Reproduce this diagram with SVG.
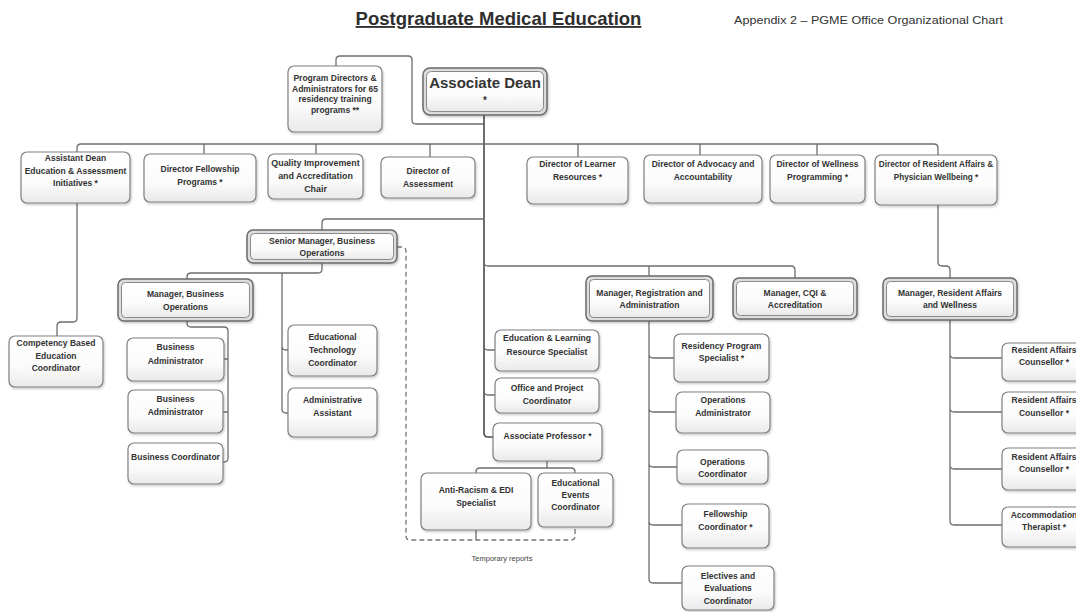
<svg xmlns="http://www.w3.org/2000/svg" width="1076" height="612" viewBox="0 0 1076 612">
<defs>
<linearGradient id="g" x1="0" y1="0" x2="0" y2="1"><stop offset="0" stop-color="#ffffff"/><stop offset="0.6" stop-color="#fbfbfb"/><stop offset="1" stop-color="#e9e9e9"/></linearGradient>
<filter id="sh" x="-10%" y="-10%" width="130%" height="140%"><feDropShadow dx="1" dy="1.5" stdDeviation="1" flood-color="#000" flood-opacity="0.22"/></filter>
</defs>
<style>
.b{fill:url(#g);stroke:#808080;stroke-width:1.2;filter:url(#sh)}
.o{fill:#dcdcdc;stroke:#6a6a6a;stroke-width:1.5;filter:url(#sh)}
.i{fill:url(#g);stroke:#8a8a8a;stroke-width:1}
.t{font-family:"Liberation Sans",Arial,sans-serif;font-weight:bold;font-size:8.5px;fill:#333;text-anchor:middle}
.c{fill:none;stroke:#6e6e6e;stroke-width:1.3}
.m{fill:none;stroke:#4a4a4a;stroke-width:1.6}
.d{fill:none;stroke:#777;stroke-width:1.3;stroke-dasharray:5,3}
</style>
<rect width="1076" height="612" fill="#ffffff"/>
<text x="498.5" y="25" font-family="'Liberation Sans',Arial,sans-serif" font-weight="bold" font-size="18.5" fill="#2e2e2e" text-anchor="middle" text-decoration="underline">Postgraduate Medical Education</text>
<text x="868.5" y="23.5" font-family="'Liberation Sans',Arial,sans-serif" font-size="11" fill="#333" text-anchor="middle" textLength="269" lengthAdjust="spacingAndGlyphs">Appendix 2 – PGME Office Organizational Chart</text>

<g id="connectors">
<path class="c" d="M336,66 V60 Q336,56 340,56 H408 Q412,56 412,60 V120 Q412,124 416,124 H484"/>
<path class="m" d="M484,115 V433 Q484,437 488,437 H493"/>
<path class="c" d="M77,152 V148 Q77,144 81,144 H934 Q938,144 938,148 V155"/>
<path class="c" d="M204,144 V154 M316,144 V154 M430,144 V157 M578,144 V157 M700,144 V155 M817,144 V155"/>
<path class="c" d="M77,203 V318 Q77,322 73,322 H61 Q57,322 57,326 V336"/>
<path class="c" d="M322,230 V223 Q322,219 326,219 H484"/>
<path class="c" d="M322,263 V269 Q322,273 318,273 H191 Q187,273 187,277 V279"/>
<path class="c" d="M282,273 V409 Q282,413 286,413 H288 M282,346 Q282,350 286,350 H288"/>
<path class="c" d="M187,321 V323 Q187,327 191,327 H224 Q228,327 228,331 V458 Q228,462 224,462 H223 M228,359 H224 M228,412 H223"/>
<path class="c" d="M484,346 Q484,350 488,350 H495 M484,391 Q484,395 488,395 H495"/>
<path class="c" d="M484,262 Q484,266 488,266 H791 Q795,266 795,270 V278 M649,266 V276"/>
<path class="c" d="M649,321 V579 Q649,583 653,583 H682 M649,354 Q649,358 653,358 H674 M649,408 Q649,412 653,412 H676 M649,463 Q649,467 653,467 H677 M649,521 Q649,525 653,525 H682"/>
<path class="c" d="M938,205 V262 Q938,266 942,266 H946 Q950,266 950,270 V278"/>
<path class="c" d="M950,320 V521 Q950,525 954,525 H1002 M950,354 Q950,358 954,358 H1002 M950,408 Q950,412 954,412 H1002 M950,465 Q950,469 954,469 H1002"/>
<path class="c" d="M547,461 V468 M476,473 V472 Q476,468 480,468 H571 Q575,468 575,472 V473"/>
<path class="d" d="M397,247 H402 Q406,247 406,251 V536 Q406,540 410,540 H571 Q575,540 575,536 V527"/>
<path class="c" d="M476,530 V540"/>
</g>

<g id="program-directors"><rect class="b" x="288" y="66" width="94" height="66" rx="6"/>
<text class="t" font-size="8" x="335"><tspan x="335" y="81">Program Directors &amp;</tspan><tspan x="335" y="91.5">Administrators for 65</tspan><tspan x="335" y="102">residency training</tspan><tspan x="335" y="112.5">programs **</tspan></text></g>

<g id="associate-dean"><rect class="o" x="423" y="68" width="124" height="47" rx="7"/><rect class="i" x="426.5" y="71.5" width="117" height="40" rx="5"/>
<text class="t" style="font-size:15px" x="485" y="88">Associate Dean</text><text class="t" style="font-size:10px" x="485" y="104">*</text></g>

<g id="assistant-dean"><rect class="b" x="21" y="152" width="109" height="51" rx="6"/>
<text class="t"><tspan x="75.5" y="161">Assistant Dean</tspan><tspan x="75.5" y="173.5">Education &amp; Assessment</tspan><tspan x="75.5" y="186">Initiatives *</tspan></text></g>

<g id="director-fellowship"><rect class="b" x="144" y="154" width="112" height="48" rx="6"/>
<text class="t"><tspan x="200" y="172">Director Fellowship</tspan><tspan x="200" y="185">Programs *</tspan></text></g>

<g id="quality-improvement"><rect class="b" x="268" y="154" width="95" height="45" rx="6"/>
<text class="t" style="font-size:8.9px"><tspan x="315.5" y="166">Quality Improvement</tspan><tspan x="315.5" y="179">and Accreditation</tspan><tspan x="315.5" y="192">Chair</tspan></text></g>

<g id="director-assessment"><rect class="b" x="381" y="157" width="94" height="41" rx="6"/>
<text class="t"><tspan x="428" y="174">Director of</tspan><tspan x="428" y="187">Assessment</tspan></text></g>

<g id="director-learner"><rect class="b" x="527" y="157" width="101" height="47" rx="6"/>
<text class="t"><tspan x="577.5" y="167">Director of Learner</tspan><tspan x="577.5" y="180">Resources *</tspan></text></g>

<g id="director-advocacy"><rect class="b" x="644" y="155" width="118" height="48" rx="6"/>
<text class="t"><tspan x="703" y="167">Director of Advocacy and</tspan><tspan x="703" y="180">Accountability</tspan></text></g>

<g id="director-wellness"><rect class="b" x="770" y="155" width="95" height="48" rx="6"/>
<text class="t"><tspan x="817.5" y="167">Director of Wellness</tspan><tspan x="817.5" y="180">Programming *</tspan></text></g>

<g id="director-resident-affairs"><rect class="b" x="875" y="155" width="122" height="50" rx="6"/>
<text class="t" style="font-size:8.2px"><tspan x="936" y="167">Director of Resident Affairs &amp;</tspan><tspan x="936" y="180">Physician Wellbeing *</tspan></text></g>

<g id="competency"><rect class="b" x="9" y="336" width="94" height="51" rx="6"/>
<text class="t"><tspan x="56" y="346">Competency Based</tspan><tspan x="56" y="358.5">Education</tspan><tspan x="56" y="371">Coordinator</tspan></text></g>

<g id="senior-manager"><rect class="o" x="247" y="230" width="150" height="33" rx="6"/><rect class="i" x="250.5" y="233.5" width="143" height="26" rx="4"/>
<text class="t"><tspan x="322" y="244">Senior Manager, Business</tspan><tspan x="322" y="256">Operations</tspan></text></g>

<g id="manager-business"><rect class="o" x="118" y="279" width="135" height="42" rx="6"/><rect class="i" x="121.5" y="282.5" width="128" height="35" rx="4"/>
<text class="t"><tspan x="185.5" y="297">Manager, Business</tspan><tspan x="185.5" y="310">Operations</tspan></text></g>

<g id="business-admin-1"><rect class="b" x="127" y="338" width="97" height="43" rx="6"/>
<text class="t"><tspan x="175.5" y="350">Business</tspan><tspan x="175.5" y="364">Administrator</tspan></text></g>

<g id="business-admin-2"><rect class="b" x="128" y="390" width="95" height="43" rx="6"/>
<text class="t"><tspan x="175.5" y="402">Business</tspan><tspan x="175.5" y="415">Administrator</tspan></text></g>

<g id="business-coordinator"><rect class="b" x="128" y="443" width="95" height="41" rx="6"/>
<text class="t" x="175.5" y="460">Business Coordinator</text></g>

<g id="ed-tech"><rect class="b" x="288" y="325" width="89" height="51" rx="6"/>
<text class="t"><tspan x="332.5" y="340">Educational</tspan><tspan x="332.5" y="353">Technology</tspan><tspan x="332.5" y="365.5">Coordinator</tspan></text></g>

<g id="admin-assistant"><rect class="b" x="288" y="388" width="89" height="49" rx="6"/>
<text class="t"><tspan x="332.5" y="403">Administrative</tspan><tspan x="332.5" y="416">Assistant</tspan></text></g>

<g id="ed-learning"><rect class="b" x="495" y="330" width="104" height="41" rx="6"/>
<text class="t"><tspan x="547" y="341">Education &amp; Learning</tspan><tspan x="547" y="355">Resource Specialist</tspan></text></g>

<g id="office-project"><rect class="b" x="495" y="378" width="104" height="35" rx="6"/>
<text class="t"><tspan x="547" y="391">Office and Project</tspan><tspan x="547" y="404">Coordinator</tspan></text></g>

<g id="associate-professor"><rect class="b" x="493" y="423" width="109" height="38" rx="6"/>
<text class="t" x="547.5" y="439">Associate Professor *</text></g>

<g id="anti-racism"><rect class="b" x="421" y="473" width="110" height="57" rx="6"/>
<text class="t"><tspan x="476" y="493">Anti-Racism &amp; EDI</tspan><tspan x="476" y="506">Specialist</tspan></text></g>

<g id="educational-events"><rect class="b" x="538" y="473" width="75" height="54" rx="6"/>
<text class="t"><tspan x="575.5" y="486">Educational</tspan><tspan x="575.5" y="498">Events</tspan><tspan x="575.5" y="510">Coordinator</tspan></text></g>

<text x="502" y="561" font-family="'Liberation Sans',Arial,sans-serif" font-size="7.5" fill="#444" text-anchor="middle">Temporary reports</text>

<g id="manager-registration"><rect class="o" x="586" y="276" width="127" height="45" rx="6"/><rect class="i" x="589.5" y="279.5" width="120" height="38" rx="4"/>
<text class="t"><tspan x="649.5" y="296">Manager, Registration and</tspan><tspan x="649.5" y="308">Administration</tspan></text></g>

<g id="manager-cqi"><rect class="o" x="733" y="278" width="124" height="41" rx="6"/><rect class="i" x="736.5" y="281.5" width="117" height="34" rx="4"/>
<text class="t"><tspan x="795" y="296">Manager, CQI &amp;</tspan><tspan x="795" y="308">Accreditation</tspan></text></g>

<g id="manager-resident-affairs"><rect class="o" x="883" y="278" width="134" height="42" rx="6"/><rect class="i" x="886.5" y="281.5" width="127" height="35" rx="4"/>
<text class="t"><tspan x="950" y="296">Manager, Resident Affairs</tspan><tspan x="950" y="308">and Wellness</tspan></text></g>

<g id="residency-program"><rect class="b" x="674" y="334" width="95" height="48" rx="6"/>
<text class="t"><tspan x="721.5" y="349">Residency Program</tspan><tspan x="721.5" y="361">Specialist *</tspan></text></g>

<g id="operations-admin"><rect class="b" x="676" y="392" width="94" height="41" rx="6"/>
<text class="t"><tspan x="723" y="403">Operations</tspan><tspan x="723" y="416">Administrator</tspan></text></g>

<g id="operations-coordinator"><rect class="b" x="677" y="450" width="91" height="34" rx="6"/>
<text class="t"><tspan x="722.5" y="465">Operations</tspan><tspan x="722.5" y="477">Coordinator</tspan></text></g>

<g id="fellowship-coordinator"><rect class="b" x="682" y="504" width="87" height="44" rx="6"/>
<text class="t"><tspan x="725.5" y="517">Fellowship</tspan><tspan x="725.5" y="530">Coordinator *</tspan></text></g>

<g id="electives"><rect class="b" x="682" y="566" width="92" height="44" rx="6"/>
<text class="t"><tspan x="728" y="579">Electives and</tspan><tspan x="728" y="591">Evaluations</tspan><tspan x="728" y="604">Coordinator</tspan></text></g>

<g id="ra-counsellor-1"><rect class="b" x="1002" y="343" width="100" height="38" rx="6"/>
<text class="t"><tspan x="1044" y="353">Resident Affairs</tspan><tspan x="1044" y="365">Counsellor *</tspan></text></g>

<g id="ra-counsellor-2"><rect class="b" x="1002" y="392" width="100" height="41" rx="6"/>
<text class="t"><tspan x="1044" y="403">Resident Affairs</tspan><tspan x="1044" y="416">Counsellor *</tspan></text></g>

<g id="ra-counsellor-3"><rect class="b" x="1002" y="448" width="100" height="42" rx="6"/>
<text class="t"><tspan x="1044" y="460">Resident Affairs</tspan><tspan x="1044" y="472">Counsellor *</tspan></text></g>

<g id="accommodation-therapist"><rect class="b" x="1002" y="507" width="100" height="40" rx="6"/>
<text class="t"><tspan x="1044" y="518">Accommodation</tspan><tspan x="1044" y="530">Therapist *</tspan></text></g>
</svg>
